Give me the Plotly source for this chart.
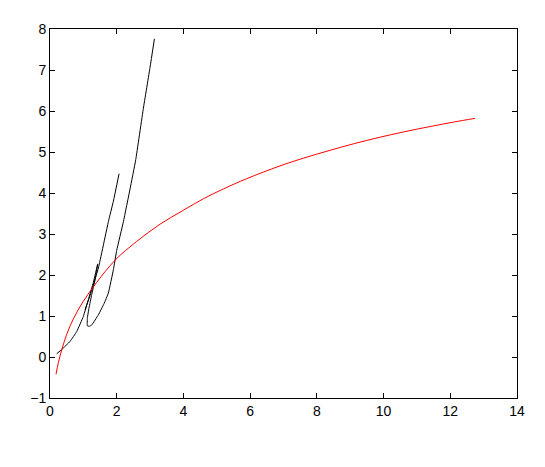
import plotly.graph_objects as go

# red curve
red_x = [0.18, 0.25, 0.35, 0.5, 0.70, 1.0, 1.4, 1.95, 2.6, 3.3, 4.0, 4.6, 5.2,
         5.9, 6.89, 7.6, 8.39, 9.1, 9.89, 10.6, 11.39, 12.1, 12.74]
red_y = [-0.42, -0.14, 0.17, 0.55, 0.93, 1.36, 1.82, 2.36, 2.82, 3.24, 3.58, 3.86, 4.10,
         4.35, 4.66, 4.85, 5.04, 5.20, 5.36, 5.49, 5.62, 5.73, 5.82]

# black curve (start -> tip -> loop bottom -> top)
blk1_x = [0.2, 0.35, 0.6, 0.8, 1.0, 1.15, 1.3, 1.43, 1.35, 1.25, 1.17, 1.12, 1.12, 1.18,
          1.25, 1.45, 1.62, 1.75, 1.9, 2.0, 2.2, 2.4, 2.57, 2.8, 3.0, 3.13]
blk1_y = [0.08, 0.18, 0.38, 0.62, 0.99, 1.40, 1.82, 2.27, 1.88, 1.52, 1.2, 0.95, 0.76, 0.75,
          0.78, 1.03, 1.30, 1.56, 2.13, 2.60, 3.30, 4.10, 4.81, 6.07, 7.07, 7.76]

# second black strand
blk2_x = [1.05, 1.2, 1.45, 1.75, 1.9, 2.07]
blk2_y = [1.15, 1.5, 2.17, 3.30, 3.80, 4.47]

fig = go.Figure()
fig.add_trace(go.Scatter(x=blk1_x, y=blk1_y, mode="lines",
                         line=dict(color="black", width=1, shape="spline", smoothing=0.3)))
fig.add_trace(go.Scatter(x=blk2_x, y=blk2_y, mode="lines",
                         line=dict(color="black", width=1, shape="spline", smoothing=0.3)))
fig.add_trace(go.Scatter(x=red_x, y=red_y, mode="lines",
                         line=dict(color="red", width=1, shape="spline", smoothing=1)))

axis_style = dict(
    showline=True,
    linecolor="black",
    linewidth=1,
    mirror="ticks",
    ticks="inside",
    ticklen=5,
    tickcolor="black",
    showgrid=False,
    zeroline=False,
    tickfont=dict(family="Liberation Sans, Arial, sans-serif", size=14, color="black"),
)

fig.update_xaxes(range=[0, 14], tickvals=list(range(0, 15, 2)), **axis_style)
fig.update_yaxes(range=[-1, 8], tickvals=list(range(-1, 9)), **axis_style)

fig.update_layout(
    width=545,
    height=467,
    paper_bgcolor="white",
    plot_bgcolor="white",
    showlegend=False,
    margin=dict(l=42, r=36, t=21, b=77),
)

fig.write_html("out.html")
